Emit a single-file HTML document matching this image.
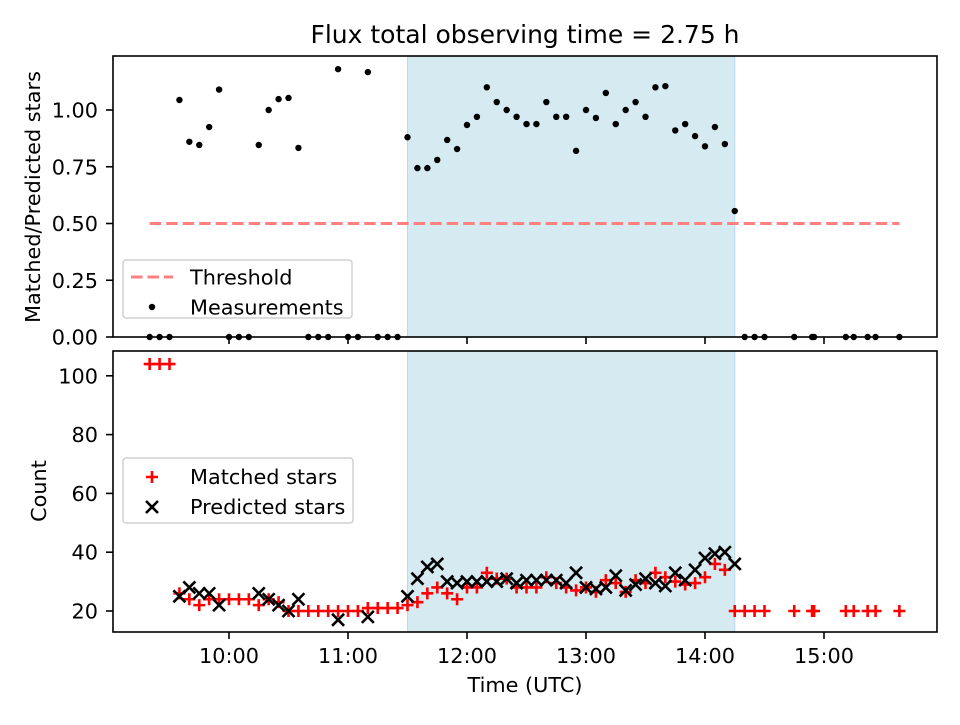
<!DOCTYPE html>
<html><head><meta charset="utf-8"><style>
body{margin:0;background:#fff}
svg text{font-family:"DejaVu Sans","Liberation Sans",sans-serif;fill:#000}
</style></head><body>
<svg id="chart" width="960" height="720" viewBox="0 0 960 720" xmlns="http://www.w3.org/2000/svg">
<rect width="960" height="720" fill="#fff"/>
<text x="525" y="43" font-size="25" text-anchor="middle">Flux total observing time = 2.75 h</text>
<g id="top"></g><g id="bot"></g>
</svg>
<script>
const slotTimes = [];
for (let m = 560; m <= 855; m += 5) slotTimes.push(m);
const extraTimes = ["14:20","14:25","14:30","14:45","14:54","14:55","15:11","15:15","15:22","15:26","15:38"];
const ratioSlots = [0,0,0,1.044,0.86,0.846,0.925,1.09,0,0,0,0.846,1.0,1.048,1.053,0.833,0,0,0,1.18,0,0,1.167,0,0,0,
0.88,0.744,0.744,0.78,0.868,0.828,0.934,0.97,1.10,1.035,1.0,0.97,0.938,0.938,1.035,0.97,0.97,0.82,1.0,0.965,1.075,0.938,1.0,1.035,0.97,1.10,1.105,0.91,0.938,0.885,0.84,0.925,0.85,0.555];
const matchedSlots = [104,104,104,26,24,22,24,24,24,24,24,22,24,23,20,20,20,20,20,20,20,20,21,21,21,21,
22,23,26,28,26,24,28,28,33,31,31,28,28,28,31.5,29.5,28,27,28,26.5,30.5,29.5,26.5,30.5,29.5,33,31.5,30,29,29.5,31.5,36,34,20];
const predictedSlots = [null,null,null,25,28,26,26,22,null,null,null,26,24,22,20,24,null,null,null,17,null,null,18,null,null,null,
25,31,35,36,30,29.5,30,30,30,30,31,29.5,30.5,30.5,30.5,30.5,29.5,33,28,27.5,28,32,27,29,31,29.5,28.5,33,30.5,34,38,39.5,40,36];
const extraRatio = [0,0,0,0,0,0,0,0,0,0,0];
const extraMatched = [20,20,20,20,20,20,20,20,20,20,20];
const xTickLabels = ["10:00","11:00","12:00","13:00","14:00","15:00"];
const topTicks = [0.00,0.25,0.50,0.75,1.00];
const botTicks = [20,40,60,80,100];
const threshold = 0.5, threshStart = "09:20", threshEnd = "15:38";
const shadeStart = "11:30", shadeEnd = "14:15";

const NS = "http://www.w3.org/2000/svg";
const toMin = s => { const [h,m] = s.split(":").map(Number); return h*60+m; };
const L = 113, R = 937;
const X = m => 229 + (m - 600) * 119 / 60;
const Yt = v => 337 - v * 227;
const Yb = c => 611 - (c - 20) * 2.94;
function el(tag, attrs, parent) { const e = document.createElementNS(NS, tag); for (const k in attrs) e.setAttribute(k, attrs[k]); parent.appendChild(e); return e; }
const svg = document.getElementById("chart");
const gt = document.getElementById("top"), gb = document.getElementById("bot");

const allTimes = slotTimes.concat(extraTimes.map(toMin));
const allRatio = ratioSlots.concat(extraRatio);
const allMatched = matchedSlots.concat(extraMatched);
const allPred = predictedSlots.concat(extraMatched.map(() => null));

function panel(g, y0, y1, nm) {
  const s = el("rect", {x: X(toMin(shadeStart)), y: y0, width: X(toMin(shadeEnd)) - X(toMin(shadeStart)), height: y1 - y0, fill: "#d5eaf1", stroke: "#b5dbe8", "stroke-width": 1}, g);
  
  
}
panel(gt, 56, 337, "top");
panel(gb, 351, 632, "bottom");

const th = el("line", {x1: X(toMin(threshStart)), x2: X(toMin(threshEnd)), y1: Yt(threshold), y2: Yt(threshold), stroke: "#ff8080", "stroke-width": 3, "stroke-dasharray": "11.5 5"}, gt);



allTimes.forEach((t, i) => {
  const c = el("circle", {cx: X(t), cy: Yt(allRatio[i]), r: 3.2, fill: "#000"}, gt);
  
  
});
allTimes.forEach((t, i) => {
  const x = X(t), y = Yb(allMatched[i]);
  const p = el("path", {d: `M${x-6} ${y}H${x+6}M${x} ${y-6}V${y+6}`, stroke: "#ff0000", "stroke-width": 2.6}, gb);
  
  
});
allTimes.forEach((t, i) => {
  if (allPred[i] == null) return;
  const x = X(t), y = Yb(allPred[i]);
  const p = el("path", {d: `M${x-6} ${y-6}L${x+6} ${y+6}M${x-6} ${y+6}L${x+6} ${y-6}`, stroke: "#000", "stroke-width": 2.6}, gb);
  
  
});

[[56,337,"top-axes-frame"],[351,632,"bottom-axes-frame"]].forEach(([a,b,n]) => {
  const r = el("rect", {x: L, y: a, width: R - L, height: b - a, fill: "none", stroke: "#000", "stroke-width": 1.6}, svg);
  
  
});
xTickLabels.forEach(s => {
  const x = X(toMin(s));
  el("line", {x1: x, x2: x, y1: 337, y2: 344, stroke: "#000", "stroke-width": 1.6}, svg);
  el("line", {x1: x, x2: x, y1: 632, y2: 639, stroke: "#000", "stroke-width": 1.6}, svg);
  const t = el("text", {x: x, y: 663, "font-size": 20.8, "text-anchor": "middle"}, svg);
  t.textContent = s;
  
  
});
topTicks.forEach(v => {
  const y = Yt(v);
  el("line", {x1: L - 7, x2: L, y1: y, y2: y, stroke: "#000", "stroke-width": 1.6}, svg);
  const t = el("text", {x: 98, y: y + 7.5, "font-size": 20.8, "text-anchor": "end"}, svg);
  t.textContent = v.toFixed(2);
  
  
});
botTicks.forEach(v => {
  const y = Yb(v);
  el("line", {x1: L - 7, x2: L, y1: y, y2: y, stroke: "#000", "stroke-width": 1.6}, svg);
  const t = el("text", {x: 98, y: y + 7.5, "font-size": 20.8, "text-anchor": "end"}, svg);
  t.textContent = v;
  
  
});
</script>
<svg style="position:absolute;left:0;top:0" width="960" height="720" xmlns="http://www.w3.org/2000/svg">
<style>text{font-family:"DejaVu Sans","Liberation Sans",sans-serif}</style>
<text transform="translate(40,197) rotate(-90)" font-size="20.8" text-anchor="middle">Matched/Predicted stars</text>
<text transform="translate(46,491) rotate(-90)" font-size="20.8" text-anchor="middle">Count</text>
<text x="525" y="692" font-size="20.8" text-anchor="middle">Time (UTC)</text>
<g>
<rect x="123" y="260" width="229" height="58" rx="3" fill="#fff" fill-opacity="0.8" stroke="#d0d0d0" stroke-width="1.5"/>
<line x1="131" x2="173" y1="277" y2="277" stroke="#ff8080" stroke-width="3" stroke-dasharray="11.5 5"/>
<text x="190" y="284.5" font-size="20.8">Threshold</text>
<circle cx="152" cy="307" r="3.2" fill="#000"/>
<text x="190" y="314.5" font-size="20.8">Measurements</text>
</g>
<g>
<rect x="123" y="458" width="230" height="65" rx="3" fill="#fff" fill-opacity="0.8" stroke="#d0d0d0" stroke-width="1.5"/>
<path d="M146 477H158M152 471V483" stroke="#f00" stroke-width="2.6"/>
<text x="190" y="484" font-size="20.8">Matched stars</text>
<path d="M146 501L158 513M146 513L158 501" stroke="#000" stroke-width="2.6"/>
<text x="190" y="514" font-size="20.8">Predicted stars</text>
</g>
</svg>
</body></html>
